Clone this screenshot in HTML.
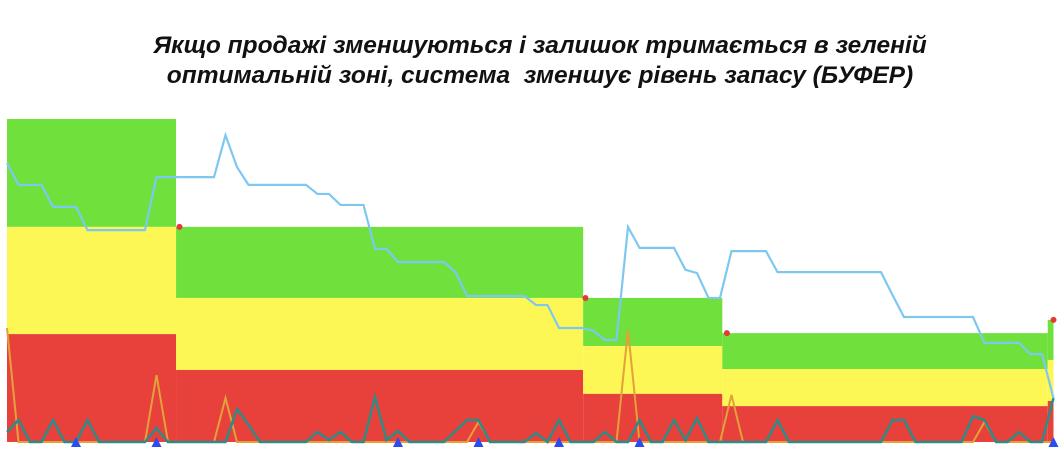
<!DOCTYPE html>
<html><head><meta charset="utf-8"><style>
body{margin:0;background:#fff;width:1059px;height:451px;overflow:hidden;font-family:"Liberation Sans",sans-serif}
#title{position:absolute;left:0;top:31px;width:1080px;text-align:center;font-weight:bold;font-style:italic;font-size:24.5px;line-height:30px;color:#111}
svg{position:absolute;left:0;top:0}
</style></head><body>
<div id="title">Якщо продажі зменшуються і залишок тримається в зеленій<br>оптимальній зоні, система&nbsp; зменшує рівень запасу (БУФЕР)</div>
<svg id="chart" width="1059" height="451"></svg>
<script>
const zoneStarts=[0,14.7,50.1,62.2,90.5];
const zoneEnds=[14.7,50.1,62.2,90.5,91];
const redTop=[33.4,22.3,14.9,11.1,12.7];
const yellowTop=[66.6,44.6,29.7,22.6,25.4];
const greenTop=[100,66.6,44.6,33.7,37.8];
const stock=[86.4,79.6,79.6,79.6,72.8,72.8,72.8,65.6,65.6,65.6,65.6,65.6,65.6,82,82,82,82,82,82,95,85.1,79.6,79.6,79.6,79.6,79.6,79.6,76.8,76.8,73.4,73.4,73.4,59.8,59.8,55.7,55.7,55.7,55.7,55.7,52.6,45.2,45.2,45.2,45.2,45.2,45.2,42.4,42.4,35.3,35.3,35.3,34.4,31.6,31.6,66.6,60.1,60.1,60.1,60.1,53.3,52.3,44.6,44.6,59.1,59.1,59.1,59.1,52.6,52.6,52.6,52.6,52.6,52.6,52.6,52.6,52.6,52.6,45.5,38.7,38.7,38.7,38.7,38.7,38.7,38.7,30.7,30.7,30.7,30.7,27.2,27.2,13.6];
const sales=[35.3,0,0,0,0,0,0,0,0,0,0,0,0,20.7,0,0,0,0,0,13.6,0,0,0,0,0,0,0,0,0,0,0,0,0,0,0,0,0,0,0,0,0,6.2,0,0,0,0,0,0,0,0,0,0,0,0,34.7,0,0,0,0,0,0,0,0,14.6,0,0,0,0,0,0,0,0,0,0,0,0,0,0,0,0,0,0,0,0,0,6.2,0,0,0,0,0,0];
const orders=[3.1,6.8,0,0,6.8,0,0,6.8,0,0,0,0,0,4.3,0,0,0,0,0,0,10.2,5.3,0,0,0,0,0,3.1,0.6,3.1,0,0,13.9,0.6,3.4,0,0,0,0,3.4,6.8,6.8,0,0,0,0,2.8,0,6.8,0,0,0,3.1,0,0,6.8,0,0,6.8,0.6,7.4,0,0,0,0,0,0,6.8,0,0,0,0,0,0,0,0,0,6.8,6.8,0,0,0,0,0,8,6.8,0,0,3.1,0,0,13.6];
const changePoints=[15,50.3,62.6,91];
const changeValues=[66.6,44.6,33.7,37.8];
const deliveries=[6,13,34,41,48,55,91];
const svg=document.getElementById('chart');
const NS='http://www.w3.org/2000/svg';
const X=i=>7+i*11.5;
const Y=v=>442-v*3.23;
function el(t,a){const e=document.createElementNS(NS,t);for(const k in a)e.setAttribute(k,a[k]);svg.appendChild(e);return e;}
zoneStarts.forEach((s,k)=>{
  const x0=X(s),w=X(zoneEnds[k])-x0;
  let r=el('rect',{x:x0,y:Y(greenTop[k]),width:w,height:Y(yellowTop[k])-Y(greenTop[k]),fill:'#6fe03c'});
  
  
  r=el('rect',{x:x0,y:Y(yellowTop[k]),width:w,height:Y(redTop[k])-Y(yellowTop[k]),fill:'#fdf755'});
  
  
  r=el('rect',{x:x0,y:Y(redTop[k]),width:w,height:Y(0)-Y(redTop[k]),fill:'#e8403a'});
  
  
});
function line(arr,color,w,name){
  const p=el('polyline',{points:arr.map((v,i)=>X(i)+','+Y(v)).join(' '),fill:'none',stroke:color,'stroke-width':w,'stroke-linejoin':'miter'});
  
  
}
line(sales,'#e3a13a',2,'sales-line');
line(orders,'#2e8b86',2.5,'orders-line');
line(stock,'#7ec8f0',2.2,'stock-line');
changePoints.forEach((c,k)=>{
  const d=el('circle',{cx:X(c),cy:Y(changeValues[k]),r:3,fill:'#e53935'});
  
  
});
deliveries.forEach(i=>{
  const x=X(i),y=Y(0);
  const t=el('polygon',{points:`${x-5},${y+5} ${x+5},${y+5} ${x},${y-5}`,fill:'#2a4cf0'});
  
  
});
</script>
</body></html>
